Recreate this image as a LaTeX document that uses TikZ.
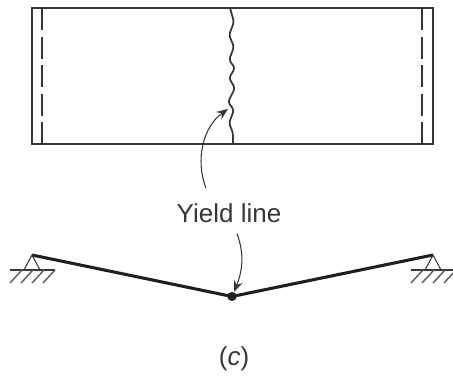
\documentclass[tikz,border=0pt]{standalone}
\usepackage{fontspec}
\setmainfont{Liberation Sans}
\usetikzlibrary{arrows.meta,positioning,calc}
\definecolor{inkgray}{RGB}{55,55,57}
\tikzset{
  slabedge/.style={draw=inkgray, line width=1.5pt},
  hingeline/.style={inkgray, line width=1.6pt, dash pattern=on 16.5pt off 4.9pt},
  crackline/.style={inkgray, line width=1.3pt, rounded corners=2.2pt},
  beamline/.style={black!88, line width=2.3pt},
  leader/.style={-{Stealth[length=3mm,width=2.4mm]}, inkgray, line width=0.8pt},
  pinline/.style={inkgray, line width=0.8pt},
  hatchline/.style={inkgray!80, line width=1.1pt},
  lbl/.style={font=\fontsize{19.5}{22}\selectfont, text=inkgray, inner sep=0pt},
}
\begin{document}
\begin{tikzpicture}[x=0.75pt,y=-0.75pt]
  \useasboundingbox (0,0) rectangle (453,377);
  % plan
  \draw[slabedge] (32,8) rectangle (433,144);
  \draw[hingeline] (42,8) -- (42,144);
  \draw[hingeline] (422,8) -- (422,144);
  \draw[crackline] (230,8) -- (234,22) -- (229,35) -- (234,47) -- (229,60) -- (235,68)
    -- (229,78) -- (235,88) -- (228,102) -- (234,110) -- (229,123) -- (233,133) -- (233,144);
  % labels
  \node[lbl] (yield) at (229,213) {Yield line};
  \node[lbl] (caption) at (234,359) {(\textit{c})};
  % beam
  \coordinate (pinL) at (32,255);
  \coordinate (pinR) at (433,255);
  \coordinate (hinge) at (232,296.5);
  \draw[beamline] (pinL) -- (hinge) -- (pinR);
  \fill[black!88] (hinge) circle (4.6);
  % leaders
  \coordinate (crackTip) at (228,109);
  \coordinate (hingeTip) at (234,292);
  \draw[leader] ($(yield.north)+(-23,-15)$) .. controls (195,160) and (203,127) .. (crackTip);
  \draw[leader] ($(yield.south)+(8,11)$) .. controls (245,255) and (242,272) .. (hingeTip);
  % supports
  \foreach \px in {32,433}{
    \draw[pinline] (\px-8,270) -- (\px,255) -- (\px+8,270);
    \draw[pinline] (\px-22,270) -- (\px+23,270);
    \foreach \hx in {-22,-11,0,11}
      \draw[hatchline] (\px+\hx,283) -- (\px+\hx+12,270);
  }
\end{tikzpicture}
\end{document}
